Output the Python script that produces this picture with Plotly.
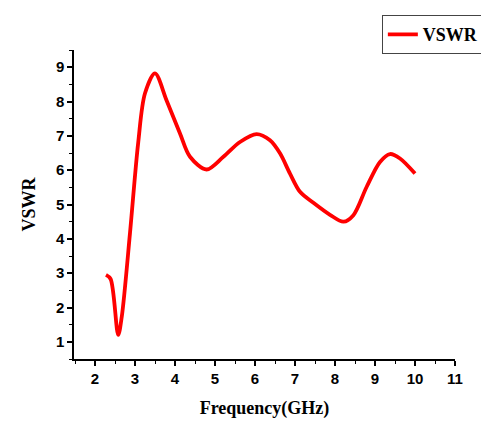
import plotly.graph_objects as go

freq = [2.275, 2.39, 2.58, 2.67, 2.875, 3.08, 3.25, 3.5, 3.79, 4.125, 4.375, 4.79,
        5.21, 5.625, 6.04, 6.375, 6.625, 6.875, 7.125, 7.46, 7.875, 8.21, 8.46,
        8.79, 9.125, 9.375, 9.625, 10.0]
vswr = [2.95, 2.83, 1.2, 1.74, 4.17, 6.8, 8.24, 8.82, 8.03, 7.07, 6.39, 6.02,
        6.39, 6.82, 7.05, 6.87, 6.49, 5.9, 5.37, 5.05, 4.7, 4.5, 4.69,
        5.51, 6.24, 6.47, 6.34, 5.9]
x_ticks = [2, 3, 4, 5, 6, 7, 8, 9, 10, 11]
y_ticks = [1, 2, 3, 4, 5, 6, 7, 8, 9]

fig = go.Figure()
fig.add_trace(go.Scatter(x=freq, y=vswr, mode="lines", name="<b>VSWR</b>",
                         line=dict(color="#ff0000", width=3.8, shape="spline", smoothing=0.9)))

tickfont = dict(family="Liberation Sans", size=15, color="black")
titlefont = dict(family="Liberation Serif", size=18, color="black")

fig.update_layout(
    width=481, height=413,
    margin=dict(l=66, r=34, t=42, b=62, autoexpand=False),
    paper_bgcolor="white", plot_bgcolor="white",
    showlegend=True,
    legend=dict(x=0.808, y=1.113, xanchor="left", yanchor="top",
                bordercolor="#444", borderwidth=1, bgcolor="white",
                font=dict(family="Liberation Serif", size=18, color="black")),
    xaxis=dict(range=[1.475, 11], tickvals=x_ticks, ticktext=[f"<b>{v}</b>" for v in x_ticks],
               showline=True, linecolor="black", linewidth=1.5, ticks="outside",
               ticklen=5, tickwidth=1.5, tickcolor="black", showgrid=False, zeroline=False,
               tickfont=tickfont,
               minor=dict(dtick=0.5, tick0=1.5, ticks="outside", ticklen=3, tickcolor="black", tickwidth=1.2),
               title=dict(text="<b>Frequency(GHz)</b>", font=titlefont, standoff=16)),
    yaxis=dict(range=[0.5, 9.5], tickvals=y_ticks, ticktext=[f"<b>{v}</b>" for v in y_ticks],
               showline=True, linecolor="black", linewidth=1.5, ticks="outside",
               ticklen=5, tickwidth=1.5, tickcolor="black", showgrid=False, zeroline=False,
               tickfont=tickfont,
               minor=dict(dtick=0.5, tick0=0.5, ticks="outside", ticklen=3, tickcolor="black", tickwidth=1.2),
               title=dict(text="<b>VSWR</b>", font=titlefont, standoff=16)),
)
fig.write_html("out.html")
